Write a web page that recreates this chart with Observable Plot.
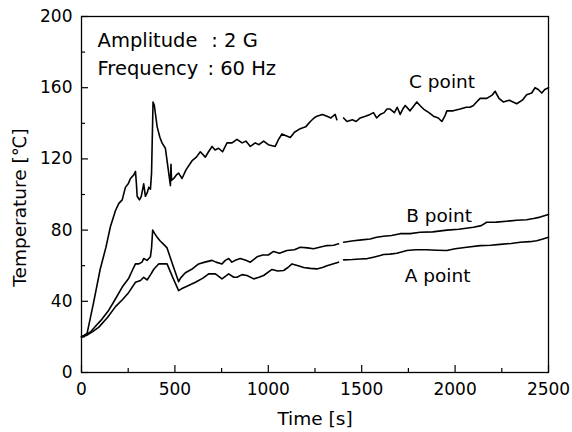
<!DOCTYPE html>
<html><head><meta charset="utf-8">
<script src="https://cdn.jsdelivr.net/npm/d3@7"></script>
<script src="https://cdn.jsdelivr.net/npm/@observablehq/plot@0.6"></script>
<style>body{margin:0;background:#fff;}</style>
</head><body><div id="chart"></div>
<script>
// C point series (time s, temperature °C); null marks a gap in the trace
const cTime = [0,30,66,100,130,155,182,200,218,235,250,262,280,289,294,298,310,320,333,342,352,360,369,375,383,390,405,420,431,449,458,476,479,482,494,508,520,538,560,592,615,636,663,680,699,715,734,755,779,806,832,860,880,904,930,950,975,1000,1037,1055,1073,1095,1118,1140,1171,1200,1225,1245,1260,1290,1314,1335,1358,1367,1385,1403,1421,1450,1470,1492,1520,1545,1563,1580,1599,1620,1635,1652,1675,1690,1706,1720,1733,1759,1795,1812,1831,1860,1884,1910,1929,1945,1956,1990,2027,2060,2080,2098,2115,2134,2170,2200,2214,2235,2258,2290,2330,2360,2383,2410,2428,2445,2464,2480,2500];
const cTemp = [20,22,40,58,70,82,91,95,97,104,106,109,111,113,106,99,97,99,106,99,101,104,103,112,152,150,138,132,129,126,119,105,117,108,109,111,112,109,114,119,121,124,121,124,127,125,126,124,129,129,131,129,130,127,129,128,130,128,127,131,134,133,132,135,137,138,141,143,144,145,144,143,145,142,null,143,141,142,141,143,144,145,146,143,145,146,148,148,146,149,145,148,150,147,152,150,148,146,144,143,141,144,147,147,148,149,149,150,152,154,154,156,158,154,152,153,151,153,156,157,160,159,157,159,160];

// B point series
const bTime = [0,20,50,75,110,146,180,218,253,275,289,305,324,333,351,369,375,381,392,405,420,440,458,490,520,530,556,590,627,660,699,720,752,770,788,805,823,850,880,904,940,970,1000,1028,1060,1100,1140,1171,1210,1242,1280,1314,1350,1376,1390,1403,1456,1500,1545,1580,1617,1660,1706,1760,1813,1880,1956,2020,2098,2140,2169,2220,2276,2330,2383,2420,2455,2500];
const bTemp = [20,21,23,26,30,35,41,48,53,58,61,61,62,64,63,65,70,80,78,76,74,72,70,60,51,53,56,58,61,62,63,62,61,63,64,62,63,64,63,62,65,66,66,68,67,68.5,69,70.4,70,69.5,70.5,71.3,71.5,72.3,null,73.2,74,74.5,75,76,76.5,77,78,78,78.8,79,80,80.5,81.6,82.5,84.4,84.5,85,85.5,85.8,86.5,87.3,88.8];

// A point series
const aTime = [0,30,60,93,140,182,220,253,289,316,333,351,370,387,413,440,458,490,520,535,556,610,650,681,717,752,770,788,815,832,860,886,922,950,975,1020,1050,1082,1105,1127,1160,1189,1225,1260,1290,1314,1345,1376,1390,1403,1450,1492,1530,1563,1599,1617,1652,1688,1742,1790,1849,1900,1956,2000,2062,2134,2190,2241,2300,2348,2400,2437,2470,2500];
const aTemp = [20,21,23,25.5,31,37,41,45,50.7,51.7,53.5,52,55,58,61,61,61,53,46,47,48,50.7,53,55.4,55.4,52.6,54,55.4,53.5,53.5,55,54.5,52.6,53.5,54.5,57.9,57,57.3,59,61,60,59,58.5,58.2,59,60,61,62,null,63.3,63.5,63.8,64,64.8,65.7,66.3,66.5,67,68.5,69,69,68.7,68.5,69.5,70.4,71.3,71.5,72,72.5,73.2,73.5,74,75,76];

const seriesNames = ["A point", "B point", "C point"];
const xMajor = [0,500,1000,1500,2000,2500];
const xMinor = [250,750,1250,1750,2250];
const yMajor = [0,40,80,120,160,200];
const yMinor = [20,60,100,140,180];
const xLabel = "Time [s]";
const yLabel = "Temperature [℃]";
const noteNames = ["Amplitude", "Frequency"];
const noteValues = [": 2 G", ": 60 Hz"];

const rows = [];
function addSeries(name, ts, vs) { ts.forEach((t, i) => rows.push({series: name, t, v: vs[i]})); }
addSeries(seriesNames[0], aTime, aTemp);
addSeries(seriesNames[1], bTime, bTemp);
addSeries(seriesNames[2], cTime, cTemp);

const W = 572, H = 432, mL = 81, mR = 24, mT = 16, mB = 60;
const pw = W - mL - mR, ph = H - mT - mB;
const font = "DejaVu Sans";

const chart = Plot.plot({
  width: W, height: H,
  marginLeft: mL, marginRight: mR, marginTop: mT, marginBottom: mB,
  style: {fontFamily: font, fontSize: "17px", background: "white", color: "black"},
  x: {domain: [0, 2500]},
  y: {domain: [0, 200]},
  marks: [
    Plot.frame({stroke: "black", strokeWidth: 1.3}),
    Plot.tickY(yMajor, {y: d => d, insetRight: pw - 7, stroke: "black", strokeWidth: 1.2}),
    Plot.tickY(yMinor, {y: d => d, insetRight: pw - 4, stroke: "black", strokeWidth: 1.2}),
    Plot.tickX(xMajor, {x: d => d, insetTop: ph - 7, stroke: "black", strokeWidth: 1.2}),
    Plot.tickX(xMinor, {x: d => d, insetTop: ph - 4, stroke: "black", strokeWidth: 1.2}),
    Plot.axisX({ticks: xMajor, tickSize: 0, tickPadding: 10, label: null, fontSize: 17, tickFormat: d => String(d)}),
    Plot.axisY({ticks: yMajor, tickSize: 0, tickPadding: 9, label: null, fontSize: 17, tickFormat: d => String(d)}),
    Plot.lineY(rows, {x: "t", y: "v", z: "series", stroke: "black", strokeWidth: 1.6, curve: "linear"}),
    // series labels
    Plot.text([seriesNames[2]], {x: 1930, y: 160, text: d => d, lineAnchor: "bottom", textAnchor: "middle", fontSize: 18.5, fill: "black"}),
    Plot.text([seriesNames[1]], {x: 1914, y: 84.8, text: d => d, lineAnchor: "bottom", textAnchor: "middle", fontSize: 18.5, fill: "black"}),
    Plot.text([seriesNames[0]], {x: 1906, y: 50.6, text: d => d, lineAnchor: "bottom", textAnchor: "middle", fontSize: 18.5, fill: "black"}),
    // condition notes
    Plot.text(noteNames, {x: 86, y: (d, i) => [182.6, 166.9][i], text: d => d, lineAnchor: "bottom", textAnchor: "start", fontSize: 19.5, fill: "black"}),
    Plot.text(noteValues, {x: (d, i) => [695, 674][i], y: (d, i) => [182.6, 166.9][i], text: d => d, lineAnchor: "bottom", textAnchor: "start", fontSize: 19.5, fill: "black"}),
    // axis titles
    Plot.text([xLabel], {frameAnchor: "bottom", dy: 52, lineAnchor: "bottom", textAnchor: "middle", fontSize: 18.5, fill: "black", text: d => d}),
    Plot.text([yLabel], {frameAnchor: "left", rotate: -90, dx: -56, dy: 13, lineAnchor: "bottom", textAnchor: "middle", fontSize: 18.5, fill: "black", text: d => d})
  ]
});
document.getElementById("chart").appendChild(chart);
</script>
</body></html>
